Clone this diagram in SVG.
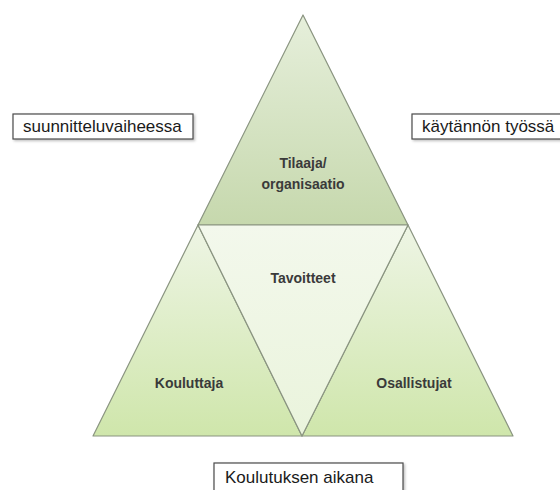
<svg xmlns="http://www.w3.org/2000/svg" width="560" height="490" viewBox="0 0 560 490">
<style>
.tri{stroke:#8a9480;stroke-width:1.2;stroke-linejoin:round}
.lbl{font-family:"Liberation Sans",Arial,sans-serif;font-size:14px;font-weight:bold;fill:#3a3a3a;text-anchor:middle}
.box{fill:#fff;stroke:#4a4a4a;stroke-width:1.2}
.btxt{font-family:"Liberation Sans",Arial,sans-serif;font-size:17px;fill:#1a1a1a}
</style>
<defs>
<linearGradient id="gTop" x1="0" y1="0" x2="0" y2="1">
<stop offset="0" stop-color="#e6efdb"/>
<stop offset="1" stop-color="#c6d8ad"/>
</linearGradient>
<linearGradient id="gMid" x1="0" y1="0" x2="0" y2="1">
<stop offset="0" stop-color="#f3f8ec"/>
<stop offset="1" stop-color="#eaf4dc"/>
</linearGradient>
<linearGradient id="gSide" x1="0" y1="0" x2="0" y2="1">
<stop offset="0" stop-color="#eef5e5"/>
<stop offset="1" stop-color="#cfe6ab"/>
</linearGradient>
<filter id="sh" x="-10%" y="-10%" width="130%" height="130%">
<feDropShadow dx="1.5" dy="1.5" stdDeviation="1" flood-color="#000" flood-opacity="0.25"/>
</filter>
</defs>
<g id="tilaaja">
<polygon class="tri" points="303,15 408,225 198,225" fill="url(#gTop)"/>
<text class="lbl" x="303" y="168">Tilaaja/</text>
<text class="lbl" x="303" y="189">organisaatio</text>
</g>
<g id="kouluttaja">
<polygon class="tri" points="198,225 302,436 93,436" fill="url(#gSide)"/>
<text class="lbl" x="189" y="388">Kouluttaja</text>
</g>
<g id="osallistujat">
<polygon class="tri" points="408,225 513,436 302,436" fill="url(#gSide)"/>
<text class="lbl" x="414" y="388">Osallistujat</text>
</g>
<g id="tavoitteet">
<polygon class="tri" points="198,225 408,225 302,436" fill="url(#gMid)"/>
<text class="lbl" x="303" y="283">Tavoitteet</text>
</g>
<g id="suunnittelu">
<rect class="box" x="13" y="114" width="180" height="25" filter="url(#sh)"/>
<text class="btxt" x="23" y="132">suunnitteluvaiheessa</text>
</g>
<g id="kaytanto">
<rect class="box" x="412" y="114" width="150" height="25" filter="url(#sh)"/>
<text class="btxt" x="422" y="132">käytännön työssä</text>
</g>
<g id="koulutus">
<rect class="box" x="214" y="463" width="189" height="34" filter="url(#sh)"/>
<text class="btxt" x="225" y="483">Koulutuksen aikana</text>
</g>
<g id="connectors"></g>
</svg>
